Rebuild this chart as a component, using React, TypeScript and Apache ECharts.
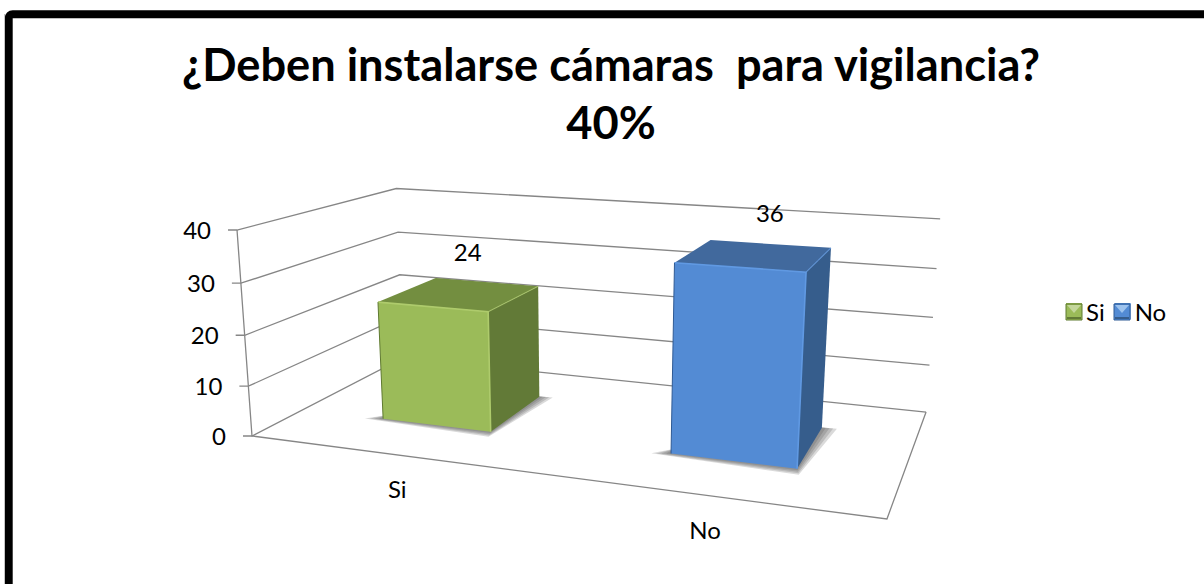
import React, { useEffect, useRef } from "react";
import * as echarts from "echarts";

const titleLines = ["¿Deben instalarse cámaras  para vigilancia?", "40%"];
const categories = ["Si", "No"];
const siValues = [24];
const noValues = [36];
const gridTicks = [0, 10, 20, 30, 40];
const tickLabels = ["0", "10", "20", "30", "40"];

const FONT = "Lato";
const GRID = "#868686";
const AXIS_MAX = 40;
const BAR_HALF_U = 0.098;
const BAR_V = [0.3, 0.71];
const LABEL_DX = [8, 15];
const CAT_DX = [6, -2];
const SHADOW_STEPS = [0.006, 0.012, 0.018, 0.024];
const GREEN = { front: "#9bbb59", top: "#738e40", side: "#627a37", edge: "#aecb6c", dark: "#5f7a30" };
const BLUE = { front: "#538bd4", top: "#41699d", side: "#365d8c", edge: "#6099e2", dark: "#2f5a94" };

// Perspective of the chart box: (u along categories, v into depth, t share of value axis) -> page.
function project(u: number, v: number, t: number): number[] {
  const w = 1 - 0.157 * u + 0.2256 * v - 0.0427 * t;
  return [
    (495.7 * u + 241.9 * v - 25.1 * t + 252) / w,
    (1.5 * u + 2.8 * v - 215.8 * t + 436) / w,
  ];
}

function shareOf(api: any, value: number) {
  return api.size([0, value])[1] / api.size([0, AXIS_MAX])[1];
}

function wallsItem(_p: any, api: any) {
  const t = shareOf(api, api.value(0));
  const a = project(0, 0, t);
  const b = project(0, 1, t);
  const c = project(1, 1, t);
  return {
    type: "group",
    children: [
      { type: "polyline", shape: { points: [[a[0] - 9, a[1]], a, b, c] }, style: { fill: "none", stroke: GRID, lineWidth: 1.3 } },
    ],
  };
}

function floorItem() {
  return {
    type: "group",
    children: [
      { type: "polyline", shape: { points: [project(0, 0, 1), project(0, 0, 0), project(1, 0, 0), project(1, 1, 0)] }, style: { fill: "none", stroke: GRID, lineWidth: 1.3 } },
    ],
  };
}

function tickLabelItem(p: any, api: any) {
  const t = shareOf(api, api.value(0));
  const a = project(0, 0, t);
  return {
    type: "text",
    style: { text: tickLabels[p.dataIndex], x: a[0] - 26, y: a[1] - 1, fill: "#000", fontFamily: FONT, fontSize: 24, align: "right", verticalAlign: "middle" },
  };
}

function categoryLabelItem(p: any, api: any) {
  const cs = p.coordSys;
  const u = (api.coord([api.value(0), 0])[0] - cs.x) / cs.width;
  const a = project(u, 0, 0);
  return {
    type: "text",
    style: { text: categories[p.dataIndex], x: a[0] + CAT_DX[p.dataIndex], y: a[1] + 34.5, fill: "#000", fontFamily: FONT, fontSize: 24, align: "center", verticalAlign: "middle" },
  };
}

function barItem(colors: typeof GREEN, dx: number) {
  return (p: any, api: any) => {
    const cs = p.coordSys;
    const value = api.value(1);
    const u = (api.coord([api.value(0), 0])[0] - cs.x) / cs.width;
    const t = shareOf(api, value);
    const u0 = u - BAR_HALF_U;
    const u1 = u + BAR_HALF_U;
    const [v0, v1] = BAR_V;
    const fl = project(u0, v0, 0);
    const fr = project(u1, v0, 0);
    const br = project(u1, v1, 0);
    const tfl = project(u0, v0, t);
    const tfr = project(u1, v0, t);
    const tbr = project(u1, v1, t);
    const tbl = project(u0, v1, t);
    const lab = project(u, 0.5, t);
    const shadows = SHADOW_STEPS.map((e) => ({
      type: "polygon",
      shape: {
        points: [
          project(u0 - e * 1.2, v0 - e * 0.8, 0),
          project(u1 + e * 0.3, v0 - e * 2, 0),
          project(u1 + e, v1 + e * 0.3, 0),
          project(u1 - 0.02, v1, 0),
          project(u0, v0 + 0.05, 0),
        ],
      },
      style: { fill: "#444", opacity: 0.2 },
    }));
    return {
      type: "group",
      children: [
        ...shadows,
        { type: "polygon", shape: { points: [tfl, tfr, tbr, tbl] }, style: { fill: colors.top } },
        { type: "polygon", shape: { points: [fr, br, tbr, tfr] }, style: { fill: colors.side } },
        { type: "polygon", shape: { points: [fl, fr, tfr, tfl] }, style: { fill: colors.front } },
        { type: "polyline", shape: { points: [tfl, tfr, fr] }, style: { fill: "none", stroke: colors.edge, lineWidth: 1.6 } },
        { type: "polyline", shape: { points: [tfr, tbr] }, style: { fill: "none", stroke: colors.edge, lineWidth: 1.2, opacity: 0.7 } },
        { type: "polyline", shape: { points: [tfl, fl] }, style: { fill: "none", stroke: colors.dark, lineWidth: 1 } },
        {
          type: "text",
          style: { text: String(value), x: lab[0] + dx, y: lab[1] - 43, fill: "#000", fontFamily: FONT, fontSize: 24, align: "center", verticalAlign: "middle" },
        },
      ],
    };
  };
}

function legendMark(x: number, y: number, c: typeof GREEN, light: string) {
  return {
    type: "group",
    x,
    y,
    silent: true,
    z: 20,
    children: [
      { type: "rect", z: 20, shape: { x: 0, y: 0, width: 16, height: 16 }, style: { fill: c.front, stroke: c.dark, lineWidth: 1 } },
      { type: "polygon", z: 21, shape: { points: [[1, 1], [15, 1], [8, 9]] }, style: { fill: light } },
      { type: "rect", z: 21, shape: { x: 1, y: 13, width: 14, height: 2 }, style: { fill: c.side } },
    ],
  };
}

const App: React.FC = () => {
  const ref = useRef<HTMLDivElement>(null);
  useEffect(() => {
    const chart = echarts.init(ref.current!, null, { renderer: "svg" });
    chart.setOption({
      animation: false,
      backgroundColor: "#fff",
      title: {
        text: titleLines.join("\n"),
        left: 606,
        top: 29,
        textAlign: "center",
        textStyle: { fontFamily: FONT, fontWeight: "bold", fontSize: 45.2, lineHeight: 58, color: "#000" },
      },
      legend: {
        data: categories,
        left: 1066,
        top: 299,
        padding: 0,
        orient: "horizontal",
        itemWidth: 16,
        itemHeight: 16,
        itemGap: 10,
        icon: "rect",
        selectedMode: false,
        textStyle: { fontFamily: FONT, fontSize: 24, color: "#000", padding: [0, 0, 0, -1] },
      },
      grid: { left: 236, top: 230, width: 650, height: 206 },
      xAxis: { type: "category", data: categories, show: false },
      yAxis: { type: "value", min: 0, max: AXIS_MAX, interval: 10, show: false },
      graphic: [
        { type: "rect", silent: true, shape: { x: 8.7, y: 14.2, width: 1400, height: 800, r: 4 }, style: { fill: "none", stroke: "#000", lineWidth: 8 } },
        { type: "rect", silent: true, shape: { x: 4, y: 14, width: 1, height: 570 }, style: { fill: "#c4c4c4" } },
        legendMark(1066, 304, GREEN, "#c3d69b"),
        legendMark(1114, 304, BLUE, "#9dc3ee"),
      ],
      series: [
        { type: "custom", silent: true, z: 1, data: gridTicks.map((v) => [v]), encode: { y: 0 }, renderItem: wallsItem },
        { type: "custom", silent: true, z: 1, data: [[0]], renderItem: floorItem },
        { type: "custom", silent: true, z: 2, data: gridTicks.map((v) => [v]), encode: { y: 0 }, renderItem: tickLabelItem },
        { type: "custom", silent: true, z: 2, data: categories.map((_, i) => [i]), encode: { x: 0 }, renderItem: categoryLabelItem },
        { type: "custom", name: "Si", silent: true, z: 3, itemStyle: { color: GREEN.front }, encode: { x: 0, y: 1 }, data: siValues.map((v) => [0, v]), renderItem: barItem(GREEN, LABEL_DX[0]) },
        { type: "custom", name: "No", silent: true, z: 4, itemStyle: { color: BLUE.front }, encode: { x: 0, y: 1 }, data: noValues.map((v) => [1, v]), renderItem: barItem(BLUE, LABEL_DX[1]) },
      ],
    });
    return () => chart.dispose();
  }, []);
  return <div ref={ref} style={{ position: "fixed", left: 0, top: 0, width: 1204, height: 584 }} />;
};

export default App;
